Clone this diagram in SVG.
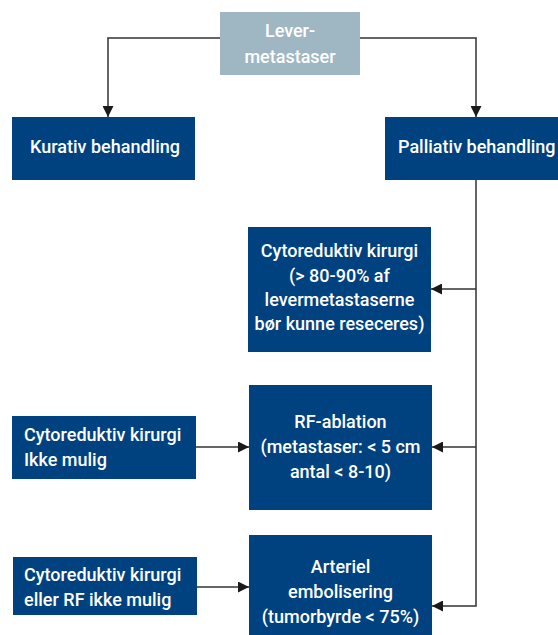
<svg xmlns="http://www.w3.org/2000/svg" width="558" height="635" viewBox="0 0 558 635">
<defs>
<style>
.box{fill:#00427f}
.top{fill:#9fb6c3}
text{font-family:Roboto,"Liberation Sans",Arial,sans-serif;font-weight:500;font-size:18px;fill:#ffffff}
.c{text-anchor:middle}
.conn{fill:none;stroke:#333333;stroke-width:1.5}
</style>
<marker id="arr" viewBox="0 0 10 10" refX="10" refY="5" markerWidth="11" markerHeight="11" markerUnits="userSpaceOnUse" orient="auto">
<path d="M0,0 L10,5 L0,10 z" fill="#1a1a1a"/>
</marker>
</defs>
<rect width="558" height="635" fill="#ffffff"/>
<g id="connectors">
<path class="conn" d="M220,38 H108 V117" marker-end="url(#arr)"/>
<path class="conn" d="M360,38 H476 V117" marker-end="url(#arr)"/>
<path class="conn" d="M476,180 V606 H432" marker-end="url(#arr)"/>
<path class="conn" d="M476,289 H431" marker-end="url(#arr)"/>
<path class="conn" d="M476,447 H432" marker-end="url(#arr)"/>
<path class="conn" d="M196,447 H249" marker-end="url(#arr)"/>
<path class="conn" d="M197,587 H249" marker-end="url(#arr)"/>
</g>
<g id="levermetastaser">
<rect class="top" x="220" y="12" width="140" height="63"/>
<text class="c" x="290" y="37">Lever-</text>
<text class="c" x="290" y="63">metastaser</text>
</g>
<g id="kurativ">
<rect class="box" x="12" y="117" width="183" height="63"/>
<text class="c" x="105" y="153">Kurativ behandling</text>
</g>
<g id="palliativ">
<rect class="box" x="385" y="117" width="173" height="63"/>
<text x="398" y="153">Palliativ behandling</text>
</g>
<g id="cytoreduktiv">
<rect class="box" x="248" y="227" width="183" height="125"/>
<text class="c" x="339.5" y="257">Cytoreduktiv kirurgi</text>
<text class="c" x="339.5" y="282">(&gt; 80-90% af</text>
<text class="c" x="339.5" y="306">levermetastaserne</text>
<text class="c" x="339.5" y="330">bør kunne reseceres)</text>
</g>
<g id="rfablation">
<rect class="box" x="249" y="385" width="183" height="125"/>
<text class="c" x="340.5" y="428">RF-ablation</text>
<text class="c" x="340.5" y="453">(metastaser: &lt; 5 cm</text>
<text class="c" x="340.5" y="478">antal &lt; 8-10)</text>
</g>
<g id="ikkemulig">
<rect class="box" x="12" y="416" width="184" height="63"/>
<text x="24" y="441">Cytoreduktiv kirurgi</text>
<text x="24" y="466">Ikke mulig</text>
</g>
<g id="arteriel">
<rect class="box" x="249" y="535" width="183" height="100"/>
<text class="c" x="340.5" y="573">Arteriel</text>
<text class="c" x="340.5" y="598">embolisering</text>
<text class="c" x="340.5" y="623">(tumorbyrde &lt; 75%)</text>
</g>
<g id="rfikkemulig">
<rect class="box" x="13" y="557" width="184" height="58"/>
<text x="24" y="581">Cytoreduktiv kirurgi</text>
<text x="24" y="606">eller RF ikke mulig</text>
</g>
</svg>
